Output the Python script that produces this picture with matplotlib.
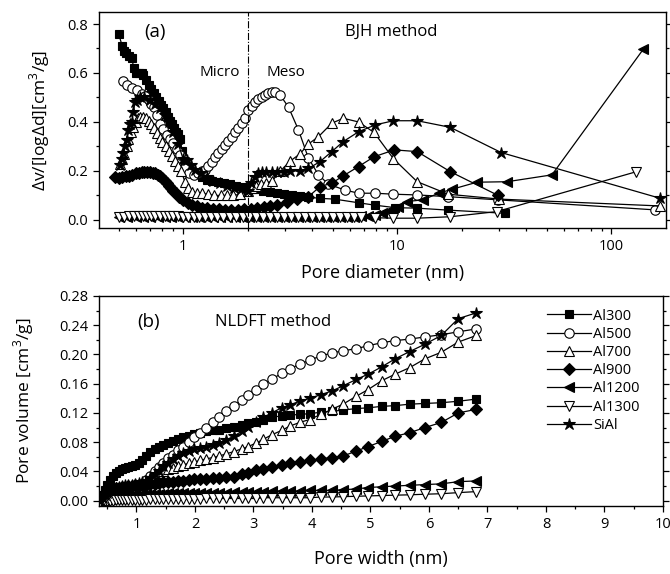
import matplotlib
matplotlib.use("Agg")
import matplotlib.pyplot as plt
from matplotlib.ticker import MultipleLocator, NullFormatter, FixedLocator

plt.rcParams['font.family'] = ['Open Sans', 'DejaVu Sans']
plt.rcParams['mathtext.fontset'] = 'custom'
plt.rcParams['mathtext.rm'] = 'Open Sans'

# ---- (a) BJH pore size distribution ----
bjh_d_al300 = [0.50, 0.52, 0.53, 0.54, 0.56, 0.575, 0.59, 0.60, 0.62, 0.64, 0.65, 0.67, 0.69, 0.71, 0.73,
               0.75, 0.77, 0.79, 0.81, 0.83, 0.85, 0.87, 0.89, 0.91, 0.93, 0.95, 0.97, 0.99, 1.02, 1.06,
               1.10, 1.16, 1.22, 1.29, 1.36, 1.45, 1.55, 1.65, 1.77, 1.90, 2.04, 2.20, 2.37, 2.55, 2.75,
               2.97, 3.22, 3.50, 3.85, 4.36, 5.1, 6.6, 7.9, 9.8, 12.4, 17.3, 31.9]
bjh_v_al300 = [0.76, 0.71, 0.69, 0.68, 0.67, 0.66, 0.62, 0.60, 0.60, 0.60, 0.59, 0.57, 0.55, 0.535, 0.52,
               0.50, 0.485, 0.47, 0.455, 0.44, 0.42, 0.405, 0.39, 0.375, 0.36, 0.35, 0.33, 0.28, 0.23, 0.20,
               0.195, 0.19, 0.175, 0.165, 0.16, 0.155, 0.15, 0.145, 0.14, 0.135, 0.13, 0.125, 0.12, 0.115, 0.11,
               0.105, 0.10, 0.097, 0.093, 0.088, 0.085, 0.07, 0.06, 0.05, 0.048, 0.04, 0.027]

bjh_d_al500 = [0.526, 0.548, 0.576, 0.607, 0.64, 0.665, 0.69, 0.71, 0.73, 0.755, 0.78, 0.81, 0.84, 0.87,
               0.90, 0.935, 0.97, 1.02, 1.07, 1.12, 1.17, 1.22, 1.27, 1.31, 1.36, 1.41, 1.46, 1.52, 1.57,
               1.63, 1.69, 1.75, 1.81, 1.88, 1.95, 2.02, 2.09, 2.17, 2.25, 2.33, 2.41, 2.50, 2.60, 2.69,
               2.84, 3.11, 3.46, 3.85, 4.29, 4.77, 5.7, 6.6, 7.9, 9.6, 12.4, 17.3, 29.6, 160]
bjh_v_al500 = [0.567, 0.55, 0.54, 0.53, 0.515, 0.505, 0.49, 0.475, 0.46, 0.43, 0.39, 0.37, 0.347, 0.33,
               0.313, 0.29, 0.265, 0.21, 0.19, 0.185, 0.19, 0.198, 0.204, 0.22, 0.238, 0.255, 0.272, 0.29, 0.306,
               0.323, 0.34, 0.357, 0.374, 0.395, 0.415, 0.449, 0.465, 0.483, 0.493, 0.503, 0.511, 0.518, 0.523, 0.524,
               0.51, 0.46, 0.367, 0.252, 0.184, 0.146, 0.122, 0.109, 0.109, 0.105, 0.102, 0.095, 0.082, 0.041]

bjh_d_al700 = [0.508, 0.52, 0.53, 0.545, 0.555, 0.57, 0.585, 0.60, 0.615, 0.63, 0.65, 0.67, 0.69, 0.71,
               0.73, 0.755, 0.78, 0.80, 0.83, 0.86, 0.89, 0.92, 0.95, 0.98, 1.02, 1.06, 1.10, 1.16, 1.23,
               1.31, 1.40, 1.50, 1.61, 1.72, 1.85, 2.0, 2.1, 2.2, 2.32, 2.45, 2.6, 2.85, 3.16, 3.52, 3.85,
               4.29, 4.95, 5.6, 6.6, 7.8, 9.6, 12.4, 17.3, 30.0, 169]
bjh_v_al700 = [0.23, 0.25, 0.27, 0.30, 0.33, 0.36, 0.38, 0.40, 0.415, 0.42, 0.42, 0.415, 0.405, 0.39,
               0.375, 0.355, 0.335, 0.32, 0.30, 0.28, 0.26, 0.24, 0.22, 0.20, 0.156, 0.13, 0.115, 0.11, 0.108,
               0.105, 0.10, 0.10, 0.10, 0.10, 0.105, 0.12, 0.13, 0.14, 0.148, 0.152, 0.158, 0.20, 0.24, 0.27, 0.31,
               0.34, 0.395, 0.415, 0.40, 0.357, 0.25, 0.156, 0.105, 0.085, 0.057]

bjh_d_al900 = [0.48, 0.50, 0.52, 0.54, 0.56, 0.58, 0.60, 0.62, 0.64, 0.66, 0.68, 0.70, 0.72, 0.74, 0.76,
               0.78, 0.80, 0.82, 0.84, 0.86, 0.88, 0.90, 0.93, 0.96, 1.0, 1.05, 1.10, 1.16, 1.22, 1.30,
               1.38, 1.47, 1.57, 1.68, 1.80, 1.93, 2.07, 2.22, 2.38, 2.56, 2.75, 3.05, 3.4, 3.85, 4.36,
               4.95, 5.6, 6.6, 7.8, 9.7, 12.4, 17.7, 29.6]
bjh_v_al900 = [0.175, 0.17, 0.175, 0.18, 0.18, 0.185, 0.19, 0.19, 0.195, 0.195, 0.195, 0.195, 0.19, 0.19, 0.185,
               0.18, 0.17, 0.16, 0.15, 0.14, 0.13, 0.12, 0.11, 0.095, 0.08, 0.07, 0.06, 0.055, 0.05, 0.047,
               0.045, 0.043, 0.042, 0.042, 0.042, 0.043, 0.045, 0.048, 0.052, 0.057, 0.062, 0.075, 0.085, 0.095, 0.136,
               0.15, 0.18, 0.218, 0.258, 0.286, 0.279, 0.197, 0.10]

bjh_d_al1200 = [0.50, 0.55, 0.60, 0.65, 0.70, 0.76, 0.82, 0.88, 0.95, 1.02, 1.10, 1.19, 1.28, 1.38, 1.49,
                1.61, 1.74, 1.88, 2.03, 2.19, 2.36, 2.55, 2.75, 2.97, 3.2, 3.45, 3.72, 4.0, 4.3, 4.65,
                5.0, 5.4, 5.85, 6.3, 6.8, 7.3, 7.9, 8.5, 9.1, 10.1, 11.1, 13.2, 15.6, 18.0, 23.6, 32.6, 52.8, 141]
bjh_v_al1200 = [0.012, 0.012, 0.013, 0.013, 0.012, 0.012, 0.011, 0.011, 0.010, 0.010, 0.010, 0.010, 0.010, 0.010, 0.010,
                0.010, 0.010, 0.010, 0.010, 0.010, 0.010, 0.010, 0.010, 0.010, 0.010, 0.010, 0.010, 0.010, 0.010, 0.010,
                0.010, 0.010, 0.010, 0.012, 0.015, 0.018, 0.022, 0.03, 0.035, 0.054, 0.075, 0.082, 0.109, 0.125, 0.154,
                0.156, 0.184, 0.697]

bjh_d_al1300 = [0.50, 0.53, 0.56, 0.59, 0.62, 0.65, 0.68, 0.71, 0.74, 0.78, 0.82, 0.86, 0.90, 0.95, 1.0,
                1.06, 1.12, 1.19, 1.27, 1.35, 1.44, 1.54, 1.65, 1.77, 1.90, 2.04, 2.2, 2.37, 2.55, 2.75,
                2.97, 3.2, 3.45, 3.72, 4.0, 4.3, 4.65, 5.0, 5.4, 5.85, 6.3, 6.8, 7.9, 9.6, 12.4, 17.7, 29.2, 131]
bjh_v_al1300 = [0.012, 0.013, 0.014, 0.015, 0.016, 0.017, 0.017, 0.017, 0.016, 0.016, 0.015, 0.015, 0.014, 0.014, 0.013,
                0.013, 0.012, 0.012, 0.012, 0.012, 0.012, 0.012, 0.012, 0.012, 0.012, 0.012, 0.012, 0.012, 0.012, 0.012,
                0.012, 0.012, 0.012, 0.012, 0.012, 0.012, 0.012, 0.012, 0.012, 0.012, 0.011, 0.011, 0.009, 0.007, 0.007,
                0.013, 0.034, 0.197]

bjh_d_sial = [0.508, 0.517, 0.526, 0.535, 0.545, 0.555, 0.565, 0.576, 0.586, 0.597, 0.61, 0.63, 0.66, 0.70,
              0.74, 0.78, 0.82, 0.86, 0.90, 0.95, 1.0, 1.04, 1.09, 1.14, 1.21, 1.29, 1.38, 1.48, 1.60,
              1.73, 1.87, 2.0, 2.08, 2.16, 2.25, 2.33, 2.45, 2.6, 2.74, 2.95, 3.16, 3.52, 3.85, 4.36,
              4.95, 5.6, 6.6, 7.9, 9.6, 12.4, 17.7, 30.6, 168]
bjh_v_sial = [0.224, 0.25, 0.272, 0.30, 0.327, 0.367, 0.39, 0.40, 0.44, 0.483, 0.49, 0.50, 0.50, 0.49,
              0.475, 0.455, 0.43, 0.40, 0.36, 0.31, 0.25, 0.245, 0.225, 0.205, 0.19, 0.175, 0.16, 0.15, 0.14,
              0.13, 0.125, 0.12, 0.15, 0.175, 0.19, 0.197, 0.197, 0.197, 0.197, 0.197, 0.20, 0.20, 0.21, 0.238,
              0.279, 0.32, 0.36, 0.388, 0.405, 0.405, 0.378, 0.275, 0.089]

# ---- (b) NLDFT cumulative pore volume, shared pore width grid ----
nldft_w = [0.38, 0.42, 0.46, 0.50, 0.55, 0.60, 0.65, 0.70, 0.75, 0.80, 0.86, 0.92, 0.98, 1.04, 1.10,
           1.17, 1.24, 1.31, 1.38, 1.46, 1.54, 1.62, 1.71, 1.80, 1.89, 1.99, 2.09, 2.19, 2.30, 2.41,
           2.53, 2.66, 2.80, 2.91, 3.05, 3.17, 3.31, 3.48, 3.62, 3.79, 3.96, 4.15, 4.34, 4.53, 4.76,
           4.96, 5.19, 5.42, 5.67, 5.93, 6.21, 6.50, 6.81]
nldft_al300 = [0.002, 0.008, 0.015, 0.021, 0.028, 0.034, 0.038, 0.041, 0.043, 0.045, 0.046, 0.047, 0.049, 0.052, 0.056,
               0.061, 0.066, 0.070, 0.073, 0.076, 0.079, 0.082, 0.085, 0.087, 0.089, 0.091, 0.093, 0.095, 0.096, 0.097,
               0.099, 0.101, 0.104, 0.106, 0.108, 0.111, 0.114, 0.116, 0.117, 0.118, 0.119, 0.121, 0.122, 0.124, 0.126,
               0.127, 0.129, 0.130, 0.132, 0.133, 0.134, 0.136, 0.139]
nldft_al500 = [0.000, 0.001, 0.001, 0.002, 0.002, 0.003, 0.003, 0.004, 0.005, 0.006, 0.008, 0.010, 0.013, 0.017, 0.022,
               0.028, 0.034, 0.040, 0.046, 0.052, 0.058, 0.063, 0.069, 0.074, 0.080, 0.087, 0.093, 0.100, 0.108, 0.115,
               0.122, 0.129, 0.138, 0.144, 0.152, 0.159, 0.166, 0.174, 0.180, 0.187, 0.192, 0.198, 0.202, 0.205, 0.208,
               0.212, 0.216, 0.219, 0.221, 0.224, 0.227, 0.231, 0.235]
nldft_al700 = [0.000, 0.001, 0.001, 0.002, 0.002, 0.003, 0.004, 0.005, 0.006, 0.007, 0.009, 0.011, 0.014, 0.018, 0.022,
               0.027, 0.031, 0.035, 0.038, 0.041, 0.043, 0.045, 0.047, 0.049, 0.051, 0.053, 0.055, 0.057, 0.059, 0.061,
               0.064, 0.067, 0.071, 0.074, 0.079, 0.084, 0.090, 0.096, 0.102, 0.107, 0.111, 0.118, 0.125, 0.132, 0.143,
               0.152, 0.164, 0.173, 0.182, 0.194, 0.203, 0.217, 0.226]
nldft_al900 = [0.000, 0.004, 0.008, 0.011, 0.014, 0.016, 0.017, 0.018, 0.019, 0.019, 0.020, 0.020, 0.021, 0.021, 0.022,
               0.022, 0.023, 0.023, 0.024, 0.025, 0.025, 0.026, 0.027, 0.027, 0.028, 0.029, 0.029, 0.030, 0.031, 0.031,
               0.032, 0.033, 0.036, 0.038, 0.042, 0.044, 0.046, 0.049, 0.051, 0.053, 0.055, 0.057, 0.059, 0.061, 0.068,
               0.074, 0.081, 0.088, 0.093, 0.100, 0.107, 0.120, 0.125]
nldft_al1200 = [0.000, 0.002, 0.003, 0.004, 0.005, 0.006, 0.006, 0.007, 0.007, 0.007, 0.008, 0.008, 0.008, 0.008, 0.009,
                0.009, 0.009, 0.009, 0.009, 0.009, 0.010, 0.010, 0.010, 0.010, 0.010, 0.010, 0.011, 0.011, 0.011, 0.011,
                0.011, 0.012, 0.012, 0.012, 0.012, 0.012, 0.013, 0.013, 0.013, 0.013, 0.014, 0.014, 0.014, 0.015, 0.016,
                0.018, 0.019, 0.020, 0.021, 0.022, 0.023, 0.026, 0.027]
nldft_al1300 = [-0.002, -0.001, 0.000, 0.000, 0.000, 0.000, 0.001, 0.001, 0.001, 0.001, 0.001, 0.001, 0.001, 0.001, 0.001,
                0.001, 0.002, 0.002, 0.002, 0.002, 0.002, 0.002, 0.002, 0.002, 0.002, 0.002, 0.002, 0.003, 0.003, 0.003,
                0.003, 0.003, 0.003, 0.003, 0.003, 0.004, 0.004, 0.004, 0.004, 0.004, 0.004, 0.005, 0.005, 0.0055, 0.006,
                0.0065, 0.007, 0.0075, 0.008, 0.0088, 0.0095, 0.011, 0.0124]
nldft_sial = [0.000, 0.004, 0.008, 0.011, 0.014, 0.016, 0.018, 0.019, 0.020, 0.021, 0.022, 0.022, 0.023, 0.024, 0.025,
              0.027, 0.031, 0.036, 0.041, 0.047, 0.052, 0.057, 0.061, 0.065, 0.068, 0.070, 0.072, 0.074, 0.076, 0.079,
              0.083, 0.088, 0.095, 0.101, 0.108, 0.114, 0.120, 0.127, 0.131, 0.136, 0.140, 0.145, 0.150, 0.157, 0.166,
              0.173, 0.183, 0.194, 0.204, 0.214, 0.226, 0.249, 0.257]

labels = ["Al300", "Al500", "Al700", "Al900", "Al1200", "Al1300", "SiAl"]
# marker, face colour, size
styles = [("s", "k", 6.2), ("o", "w", 6.8), ("^", "w", 7.2), ("D", "k", 5.8),
          ("<", "k", 7.2), ("v", "w", 7.2), ("*", "k", 9)]

bjh = [(bjh_d_al300, bjh_v_al300), (bjh_d_al500, bjh_v_al500), (bjh_d_al700, bjh_v_al700),
       (bjh_d_al900, bjh_v_al900), (bjh_d_al1200, bjh_v_al1200), (bjh_d_al1300, bjh_v_al1300),
       (bjh_d_sial, bjh_v_sial)]
nldft = [nldft_al300, nldft_al500, nldft_al700, nldft_al900, nldft_al1200, nldft_al1300, nldft_sial]

fig = plt.figure(figsize=(6.7, 5.74), dpi=100)
ax1 = fig.add_axes([99/670, 1-228/574, 567/670, 216/574])
ax2 = fig.add_axes([99/670, 1-506/574, 564/670, 210/574])


def style_axis(ax):
    for s in ax.spines.values():
        s.set_linewidth(1.0)
    ax.tick_params(which='both', direction='out', right=True, width=0.9, labelsize=10.5)
    ax.tick_params(which='major', length=4.5)
    ax.tick_params(which='minor', length=2.5)


# top panel
for (d, v), (m, fc, ms) in zip(bjh, styles):
    ax1.plot(d, v, '-', color='k', lw=0.9, marker=m, ms=ms, mfc=fc, mec='k', mew=0.8)
ax1.axvline(2, color='k', ls='-.', lw=0.8)
ax1.set_xscale('log')
ax1.set_xlim(0.405, 180)
ax1.set_ylim(-0.033, 0.849)
ax1.xaxis.set_major_locator(FixedLocator([1, 10, 100]))
ax1.set_xticklabels(['1', '10', '100'])
ax1.xaxis.set_minor_formatter(NullFormatter())
ax1.yaxis.set_major_locator(MultipleLocator(0.2))
ax1.yaxis.set_minor_locator(MultipleLocator(0.1))
ax1.yaxis.set_major_formatter(plt.FuncFormatter(lambda y, p: "%.1f" % y))
style_axis(ax1)
ax1.set_xlabel("Pore diameter (nm)", fontsize=13)
ax1.set_ylabel("Δv/[logΔd][cm$^3$/g]", fontsize=12.5)
ax1.xaxis.set_label_coords(0.5, -0.165)
ax1.yaxis.set_label_coords(-0.083, 0.5)
ax1.text(0.079, 0.907, "(a)", transform=ax1.transAxes, fontsize=13.5, va='center')
ax1.text(0.178, 0.722, "Micro", transform=ax1.transAxes, fontsize=11, va='center')
ax1.text(0.296, 0.722, "Meso", transform=ax1.transAxes, fontsize=11, va='center')
ax1.text(0.434, 0.907, "BJH method", transform=ax1.transAxes, fontsize=12, va='center')

# bottom panel
for vals, (m, fc, ms), lab in zip(nldft, styles, labels):
    ax2.plot(nldft_w, vals, '-', color='k', lw=0.9, marker=m, ms=ms, mfc=fc, mec='k', mew=0.8, label=lab)
ax2.set_xlim(0.36, 10)
ax2.set_ylim(-0.0073, 0.28)
ax2.xaxis.set_major_locator(MultipleLocator(1))
ax2.xaxis.set_minor_locator(MultipleLocator(0.5))
ax2.yaxis.set_major_locator(MultipleLocator(0.04))
ax2.yaxis.set_minor_locator(MultipleLocator(0.02))
ax2.yaxis.set_major_formatter(plt.FuncFormatter(lambda y, p: "%.2f" % y))
style_axis(ax2)
ax2.set_xlabel("Pore width (nm)", fontsize=13)
ax2.set_ylabel("Pore volume [cm$^3$/g]", fontsize=12.5)
ax2.xaxis.set_label_coords(0.5, -0.21)
ax2.yaxis.set_label_coords(-0.112, 0.5)
ax2.text(0.067, 0.876, "(b)", transform=ax2.transAxes, fontsize=13.5, va='center')
ax2.text(0.206, 0.876, "NLDFT method", transform=ax2.transAxes, fontsize=12, va='center')
ax2.legend(loc='upper left', bbox_to_anchor=(0.794, 0.94), frameon=False, fontsize=10.5,
           handlelength=3.0, handletextpad=0.2, labelspacing=0.22, borderpad=0, borderaxespad=0)

fig.savefig("out.png", dpi=100)
